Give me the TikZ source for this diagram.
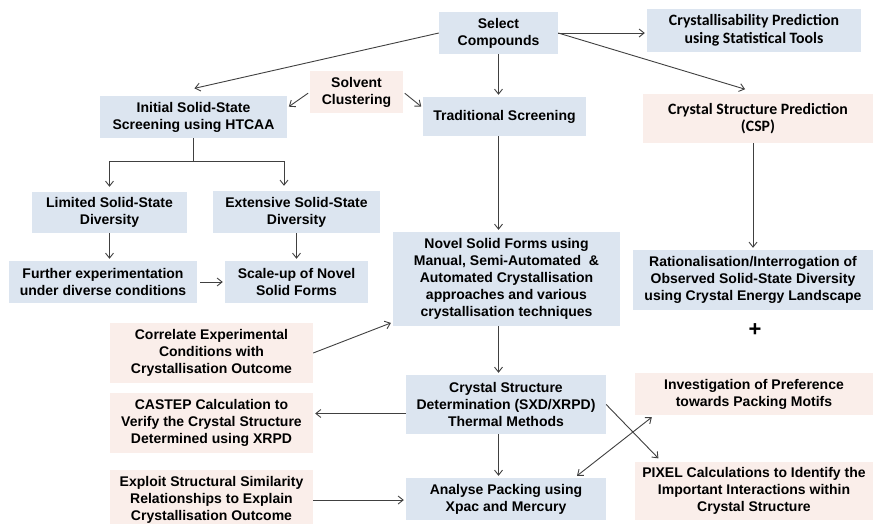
\documentclass[tikz,border=0pt]{standalone}
\usepackage{fontspec}
\setmainfont{Liberation Sans}
\newfontfamily\calfont{Carlito}
\usepackage{tikz}
\usetikzlibrary{positioning,arrows.meta,calc}
\definecolor{boxblue}{RGB}{220,229,240}
\definecolor{boxpink}{RGB}{250,238,234}
\definecolor{arrowgray}{RGB}{64,64,64}
\tikzset{
  flowarrow/.style={-{Straight Barb[length=5pt,width=8pt]}, draw=arrowgray, line width=0.9pt, shorten >=2pt},
  flowboth/.style={{Straight Barb[length=5pt,width=8pt]}-{Straight Barb[length=5pt,width=8pt]}, draw=arrowgray, line width=0.9pt},
  bluebox/.style={fill=boxblue, inner sep=2pt, align=center, font=\bfseries\fontsize{14}{17}\selectfont},
  pinkbox/.style={bluebox, fill=boxpink},
  calbox/.style={font=\calfont\bfseries\fontsize{15.8}{17.5}\selectfont}
}

\begin{document}
\begin{tikzpicture}[x=1pt, y=-1pt]
      \useasboundingbox[fill=white] (0,0) rectangle (873,523);
      % top row
      \node[bluebox, minimum width=119pt, minimum height=42pt] (sel) at (498.5,33) {Select\\Compounds};
      \node[bluebox, calbox, minimum width=214pt, minimum height=43pt] (cryp) at (754,30.5) {Crystallisability Prediction\\using Statistical Tools};
      \node[pinkbox, minimum width=93pt, minimum height=42pt] (solv) at (356.5,92) {Solvent\\Clustering};
      \node[bluebox, minimum width=187pt, minimum height=42pt] (init) at (193.5,117) {Initial Solid-State\\Screening using HTCAA};
      \node[bluebox, minimum width=163pt, minimum height=39pt] (trad) at (504.5,116.5) {Traditional Screening};
      \node[pinkbox, calbox, minimum width=230pt, minimum height=49pt] (csp) at (758,118.5) {Crystal Structure Prediction\\(CSP)};
      % HTCAA branch
      \node[bluebox, minimum width=155pt, minimum height=41pt] (lim) at (109.5,212.5) {Limited Solid-State\\Diversity};
      \node[bluebox, minimum width=167pt, minimum height=42pt] (ext) at (296.5,212) {Extensive Solid-State\\Diversity};
      \node[bluebox, minimum width=188pt, minimum height=42pt] (fur) at (103,282) {Further experimentation\\under diverse conditions};
      \node[bluebox, minimum width=143pt, minimum height=42pt] (scl) at (296.5,282) {Scale-up of Novel\\Solid Forms};
      % middle
      \node[bluebox, minimum width=227pt, minimum height=94pt] (nov) at (506.5,279) {Novel Solid Forms using\\Manual, Semi-Automated \ \&\\Automated Crystallisation\\approaches and various\\crystallisation techniques};
      \node[bluebox, minimum width=240pt, minimum height=60pt] (rat) at (753,280) {Rationalisation/Interrogation of\\Observed Solid-State Diversity\\using Crystal Energy Landscape};
      \node[font=\bfseries\fontsize{22}{22}\selectfont] (plus) at (755,330) {+};
      \node[pinkbox, minimum width=203pt, minimum height=60pt] (cor) at (211.5,353) {Correlate Experimental\\Conditions with\\Crystallisation Outcome};
      \node[bluebox, minimum width=200pt, minimum height=59pt] (csd) at (506,404.5) {Crystal Structure\\Determination (SXD/XRPD)\\Thermal Methods};
      \node[pinkbox, minimum width=203pt, minimum height=60pt] (cas) at (211.5,423) {CASTEP Calculation to\\Verify the Crystal Structure\\Determined using XRPD};
      \node[pinkbox, minimum width=238pt, minimum height=42pt] (inv) at (754,394) {Investigation of Preference\\towards Packing Motifs};
      % bottom row
      \node[pinkbox, minimum width=203pt, minimum height=60pt] (exp) at (211.5,500) {Exploit Structural Similarity\\Relationships to Explain\\Crystallisation Outcome};
      \node[bluebox, minimum width=200pt, minimum height=42pt] (ana) at (506,499) {Analyse Packing using\\Xpac and Mercury};
      \node[pinkbox, minimum width=238pt, minimum height=58pt] (pix) at (754,491) {PIXEL Calculations to Identify the\\Important Interactions within\\Crystal Structure};

      % arrows from the compounds
      \draw[flowarrow] (sel.west) -- ([xshift=-1pt,yshift=7pt]init.north);
      \draw[flowarrow] (sel.south) -- (sel.south |- trad.north);
      \draw[flowarrow] (sel.east) -- (sel.east -| cryp.west);
      \draw[flowarrow] (sel.east) -- ([xshift=-11pt,yshift=4pt]csp.north);
      \draw[flowarrow, shorten <=2pt] (solv.west) -- ([yshift=-12pt]init.north east);
      \draw[flowarrow, shorten <=2pt] (solv.east) -- ([yshift=-11pt]trad.north west);
      % HTCAA branch
      \draw[arrowgray, line width=0.9pt] (init.south) -- ++(0,23) coordinate (br);
      \draw[flowarrow] (br) -| ([yshift=3pt]lim.north);
      \draw[flowarrow] (br) -| ([xshift=-12.5pt,yshift=3pt]ext.north);
      \draw[flowarrow] (lim.south) -- (lim.south |- fur.north);
      \draw[flowarrow] (ext.south) -- (ext.south |- scl.north);
      \draw[flowarrow, shorten <=3pt] (fur.east) -- (fur.east -| scl.west);
      % main column
      \draw[flowarrow] (sel.south |- trad.south) -- (sel.south |- nov.north);
      \draw[flowarrow] (rat.north |- csp.south) -- (rat.north);
      \draw[flowarrow] (cor.east) -- ([yshift=4pt]nov.south west);
      \draw[flowarrow] (sel.south |- nov.south) -- (sel.south |- csd.north);
      \draw[flowarrow] ([yshift=-9pt]csd.west) -- ([yshift=-9pt]csd.west -| cas.east);
      \draw[flowarrow] (sel.south |- csd.south) -- (sel.south |- ana.north);
      \draw[flowarrow] (exp.east) -- (exp.east -| ana.west);
      \draw[flowarrow] (csd.east) -- ([xshift=25pt,yshift=2pt]pix.north west);
      \draw[flowboth] ([xshift=71pt,yshift=2pt]ana.north) -- ([xshift=17pt,yshift=-2pt]inv.south west);
\end{tikzpicture}
\end{document}
